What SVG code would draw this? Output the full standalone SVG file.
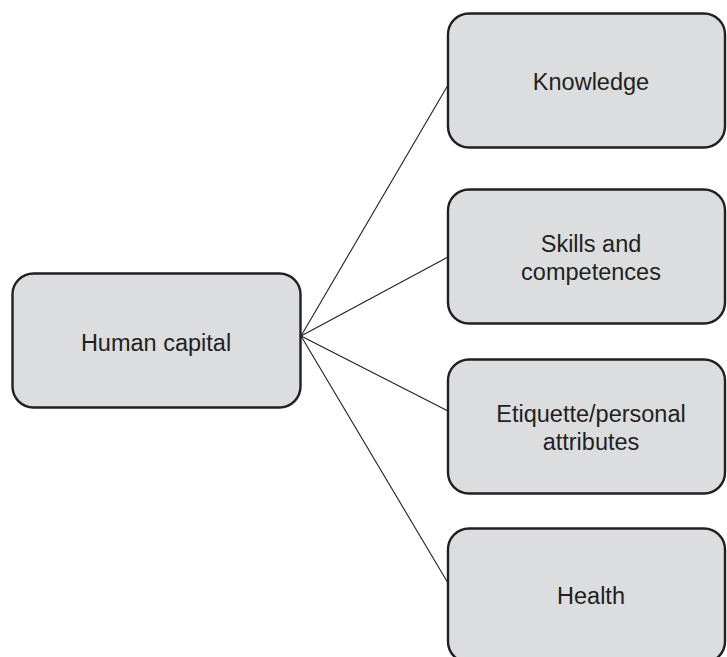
<svg xmlns="http://www.w3.org/2000/svg" width="727" height="657" viewBox="0 0 727 657">
<style>
.box{fill:#dcdddf;stroke:#231f20;stroke-width:2.4}
.lbl{font-family:"Liberation Sans",Arial,sans-serif;font-size:23.5px;fill:#231f20;text-anchor:middle}
.conn line{stroke:#231f20;stroke-width:1.1}
</style>
<rect width="727" height="657" fill="#ffffff"/>
<g class="conn" id="connectors">
<line x1="301" y1="336" x2="448" y2="85"/>
<line x1="301" y1="336" x2="448" y2="257"/>
<line x1="301" y1="336" x2="448" y2="411"/>
<line x1="301" y1="336" x2="448" y2="583"/>
</g>
<g id="human-capital">
<rect class="box" x="12.5" y="273.5" width="288" height="134" rx="21"/>
<text class="lbl" x="156" y="350.5">Human capital</text>
</g>
<g id="knowledge">
<rect class="box" x="448" y="13.5" width="277" height="134" rx="21"/>
<text class="lbl" x="591" y="90">Knowledge</text>
</g>
<g id="skills">
<rect class="box" x="448" y="189.5" width="277" height="134" rx="21"/>
<text class="lbl" x="591" y="251.5">Skills and</text>
<text class="lbl" x="591" y="280">competences</text>
</g>
<g id="etiquette">
<rect class="box" x="448" y="359.5" width="277" height="134" rx="21"/>
<text class="lbl" x="591" y="421.5">Etiquette/personal</text>
<text class="lbl" x="591" y="450">attributes</text>
</g>
<g id="health">
<rect class="box" x="448" y="528.5" width="277" height="134" rx="21"/>
<text class="lbl" x="591" y="604">Health</text>
</g>
</svg>
